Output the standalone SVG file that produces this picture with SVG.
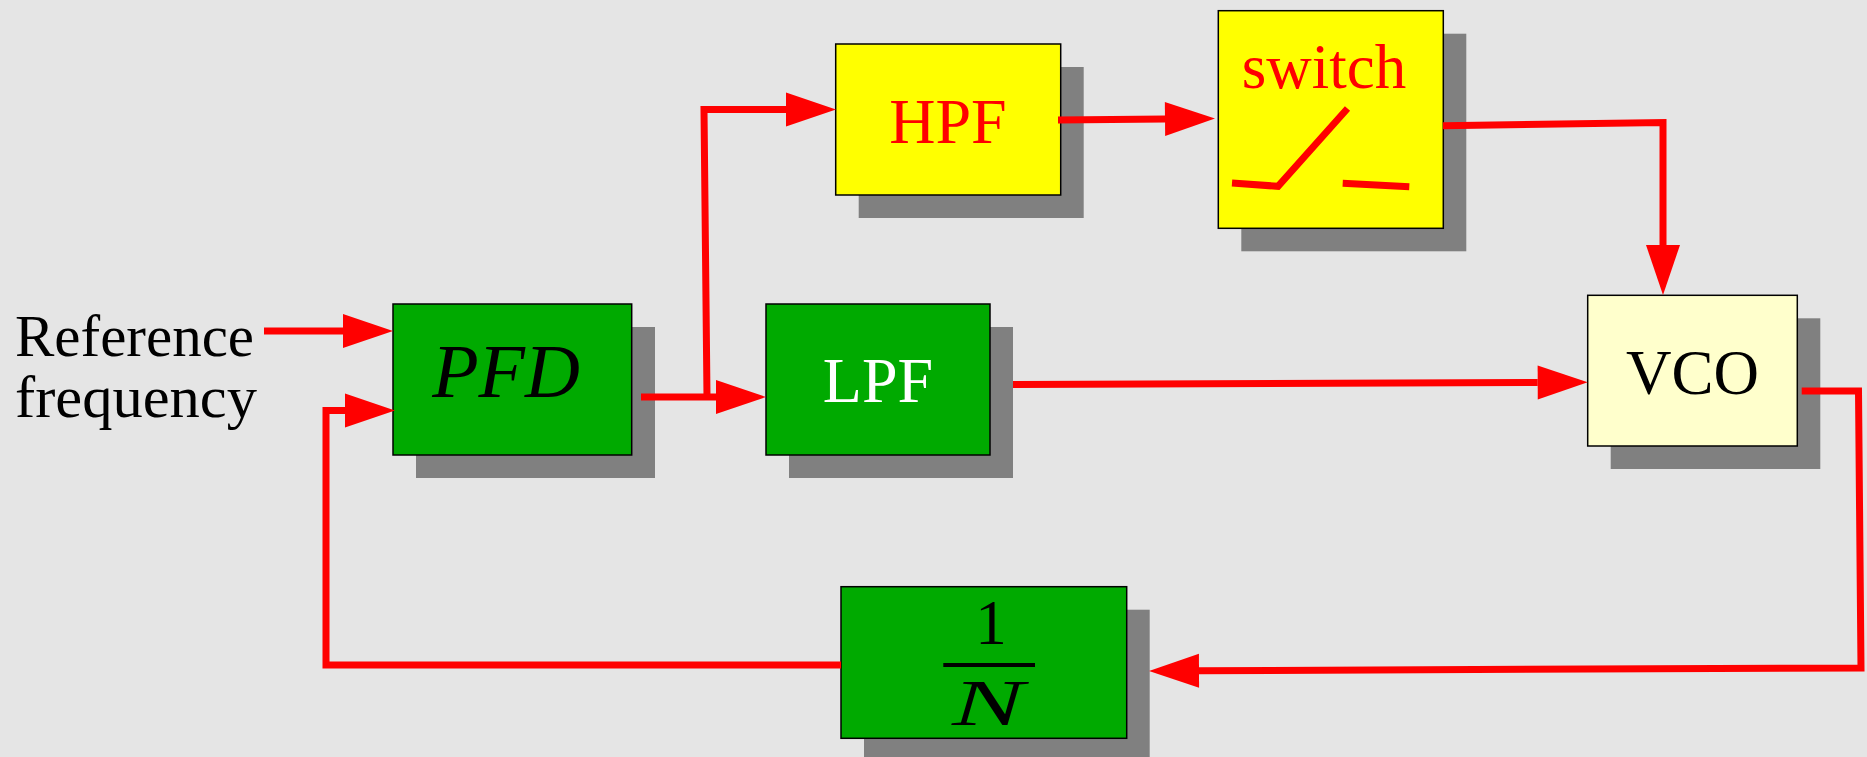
<svg xmlns="http://www.w3.org/2000/svg" width="1867" height="757" viewBox="0 0 1867 757">
<style>
.shadow{fill:#808080}
.box{stroke:#000;stroke-width:1.5}
.green{fill:#00aa00}
.yellow{fill:#ffff00}
.cream{fill:#ffffcc}
.lbl{font-family:"Liberation Serif","Times New Roman",serif;text-anchor:middle}
.wire{fill:none;stroke:#ff0000;stroke-width:7;stroke-linejoin:miter}
</style>
<defs>
<marker id="arr" markerUnits="userSpaceOnUse" markerWidth="50" markerHeight="34" refX="0" refY="17" orient="auto" overflow="visible">
<path d="M0,0 L50,17 L0,34 Z" fill="#ff0000"/>
</marker>
</defs>
<rect x="0" y="0" width="1867" height="757" fill="#e5e5e5"/>
<g id="ref-label">
<text x="15" y="356" font-family="Liberation Serif, Times New Roman, serif" font-size="60" fill="#000" textLength="239" lengthAdjust="spacingAndGlyphs">Reference</text>
<text x="15" y="417" font-family="Liberation Serif, Times New Roman, serif" font-size="60" fill="#000" textLength="242" lengthAdjust="spacingAndGlyphs">frequency</text>
</g>
<g id="pfd">
<rect class="shadow" x="416" y="327" width="239" height="151"/>
<rect class="box green" x="393" y="304" width="238.7" height="151"/>
<text class="lbl" x="506" y="397" font-size="76" font-style="italic" fill="#000">PFD</text>
</g>
<g id="lpf">
<rect class="shadow" x="789" y="327" width="224" height="151"/>
<rect class="box green" x="766" y="304" width="224" height="151"/>
<text class="lbl" x="878" y="402" font-size="64" fill="#fff">LPF</text>
</g>
<g id="hpf">
<rect class="shadow" x="858.7" y="67" width="225" height="151"/>
<rect class="box yellow" x="835.7" y="44" width="225" height="151"/>
<text class="lbl" x="948" y="142.5" font-size="64" fill="#ff0000">HPF</text>
</g>
<g id="switch">
<rect class="shadow" x="1241.3" y="33.7" width="225" height="217.6"/>
<rect class="box yellow" x="1218.3" y="10.7" width="225" height="217.6"/>
<text class="lbl" x="1324" y="87.5" font-size="63" fill="#ff0000">switch</text>
<path d="M1232,183 L1278,186.3 L1347.5,108.5 M1342.7,183.3 L1409.3,186.7" fill="none" stroke="#ff0000" stroke-width="7"/>
</g>
<g id="vco">
<rect class="shadow" x="1610.7" y="318.3" width="209.6" height="150.7"/>
<rect class="box cream" x="1587.7" y="295.3" width="209.6" height="150.7"/>
<text class="lbl" x="1692.5" y="393.5" font-size="63" fill="#000">VCO</text>
</g>
<g id="divider">
<rect class="shadow" x="864" y="609.7" width="285.7" height="151.6"/>
<rect class="box green" x="841" y="586.7" width="285.7" height="151.6"/>
<text class="lbl" x="991" y="644" font-size="63" fill="#000">1</text>
<rect x="943.3" y="663" width="91.7" height="4" fill="#000"/>
<text class="lbl" x="988" y="725" font-size="66" font-style="italic" fill="#000" textLength="72" lengthAdjust="spacingAndGlyphs">N</text>
</g>
<g id="connectors">
<path class="wire" d="M264,331 L343,331" marker-end="url(#arr)"/>
<path class="wire" d="M841,665 L326,665 L326,410.5 L345,410.5" marker-end="url(#arr)"/>
<path class="wire" d="M641,397 L716,397" marker-end="url(#arr)"/>
<path class="wire" d="M707,397 L704,109.5 L786,109.5" marker-end="url(#arr)"/>
<path class="wire" d="M1058,120 L1165,119" marker-end="url(#arr)"/>
<path class="wire" d="M1443,125.7 L1663,122.5 L1663,245" marker-end="url(#arr)"/>
<path class="wire" d="M1013,384.5 L1537.7,382.5" marker-end="url(#arr)"/>
<path class="wire" d="M1801.7,391 L1858.5,391 L1861,668 L1199,670.7" marker-end="url(#arr)"/>
</g>
</svg>
